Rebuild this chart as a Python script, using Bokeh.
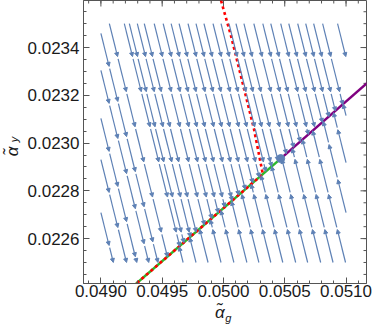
import math
from bokeh.plotting import figure
from bokeh.models import (Range1d, FixedTicker, LinearAxis, Arrow, NormalHead,
                          ColumnDataSource, PrintfTickFormatter)
from bokeh.embed import file_html
from bokeh.resources import INLINE

# ---------------- axis ticks ----------------
x_tick_values = [0.0490, 0.0495, 0.0500, 0.0505, 0.0510]
x_tick_labels = ["0.0490", "0.0495", "0.0500", "0.0505", "0.0510"]
x_minor_values = [0.0489, 0.0490, 0.0491, 0.0492, 0.0493, 0.0494, 0.0495, 0.0496,
                  0.0497, 0.0498, 0.0499, 0.0500, 0.0501, 0.0502, 0.0503, 0.0504,
                  0.0505, 0.0506, 0.0507, 0.0508, 0.0509, 0.0510, 0.0511]
y_tick_values = [0.0226, 0.0228, 0.0230, 0.0232, 0.0234]
y_tick_labels = ["0.0226", "0.0228", "0.0230", "0.0232", "0.0234"]
y_minor_values = [0.02245, 0.02250, 0.02255, 0.02260, 0.02265, 0.02270, 0.02275,
                  0.02280, 0.02285, 0.02290, 0.02295, 0.02300, 0.02305, 0.02310,
                  0.02315, 0.02320, 0.02325, 0.02330, 0.02335, 0.02340, 0.02345,
                  0.02350, 0.02355]
x_lo, x_hi = 0.048858, 0.051167
y_lo, y_hi = 0.022412, 0.023597

# axis titles: main symbol and its subscript, each anchored at an axis value
x_title, x_title_at = "\u03b1\u0303", 0.04997
x_sub, x_sub_at = "g", 0.05004
y_title, y_title_at = "\u03b1\u0303", 0.022965
y_sub, y_sub_at = "y", 0.023015

# ---------------- curves ----------------
green_x = [0.04926, 0.050467]
green_y = [0.022399, 0.022935]
purple_x = [0.050467, 0.05120]
purple_y = [0.022935, 0.023264]
red_x = [0.049980, 0.050061, 0.050248, 0.050321, 0.04926]
red_y = [0.023597, 0.023450, 0.023061, 0.022870, 0.022399]
fixed_x = [0.050467]
fixed_y = [0.022935]

# ---------------- stream field ----------------
flow_slope = -2.06          # dy/dx of the flow direction
attractor_slope = 0.446     # slope of the attracting line through the fixed point
domain_x = (0.0490, 0.0510)
domain_y = (0.0225, 0.0235)
top_seeds_x = [0.049069, 0.049191, 0.049232, 0.049297, 0.049354, 0.049435,
               0.049508, 0.049573, 0.049638, 0.049711, 0.049776, 0.049841,
               0.049915, 0.049980, 0.050045, 0.050102, 0.050167, 0.050248,
               0.050321, 0.050386, 0.050467, 0.050533, 0.050606, 0.050671,
               0.050736, 0.050809, 0.050931]
left_seeds_y = [0.023459, 0.023304, 0.023103, 0.022931, 0.022709]
bottom_seeds_x = [0.049671, 0.049776, 0.049874, 0.049980, 0.050085, 0.050191,
                  0.050289, 0.050386, 0.050484, 0.050589, 0.050687, 0.050793,
                  0.050894, 0.050996]
right_seeds_y = [0.023115, 0.022918, 0.022709]

piece_h = 0.000147   # vertical length of one arrow segment
piece_gap = 0.000009

def att(x):
    return fixed_y[0] + attractor_slope * (x - fixed_x[0])

k = abs(flow_slope)
xs0, ys0, xs1, ys1 = [], [], [], []

def trace(x0, y0, sgn):
    s = y0 - att(x0)
    t_att = abs(s) / (attractor_slope + k)
    if sgn > 0:
        t_end = min(t_att, domain_x[1] - x0, (y0 - domain_y[0]) / k)
    else:
        t_end = min(t_att, x0 - domain_x[0], (domain_y[1] - y0) / k)
    V = k * t_end
    j = 0
    while True:
        a = j * piece_h
        if a >= V - 0.000004:
            break
        b = min((j + 1) * piece_h - piece_gap, V)
        ta, tb = a / k, b / k
        xs0.append(x0 + sgn * ta)
        ys0.append(y0 - sgn * k * ta)
        xs1.append(x0 + sgn * tb)
        ys1.append(y0 - sgn * k * tb)
        j += 1

for xv in top_seeds_x:
    trace(xv, domain_y[1], 1 if domain_y[1] > att(xv) else -1)
for yv in left_seeds_y:
    trace(domain_x[0], yv, 1 if yv > att(domain_x[0]) else -1)
for xv in bottom_seeds_x:
    trace(xv, domain_y[0], 1 if domain_y[0] > att(xv) else -1)
for yv in right_seeds_y:
    trace(domain_x[1], yv, 1 if yv > att(domain_x[1]) else -1)

# ---------------- figure ----------------
AX = "#555555"
TXT = "#1a1a1a"
FONT = "Liberation Sans"
W, H = 372, 333
p = figure(width=W, height=H,
           x_range=Range1d(x_lo, x_hi), y_range=Range1d(y_lo, y_hi),
           output_backend="svg", toolbar_location=None,
           min_border_left=82, min_border_right=6, min_border_top=0, min_border_bottom=50,
           x_axis_type=None, y_axis_type=None)
p.grid.visible = False
p.outline_line_color = AX
p.outline_line_width = 1
p.background_fill_color = "white"

def style(axis, ticks, minor, labels, standoff):
    axis.ticker = FixedTicker(ticks=ticks, minor_ticks=minor)
    axis.axis_line_color = AX
    axis.major_tick_line_color = AX
    axis.minor_tick_line_color = AX
    axis.major_tick_in = 6
    axis.major_tick_out = 0
    axis.minor_tick_in = 3
    axis.minor_tick_out = 0
    axis.formatter = PrintfTickFormatter(format="%.4f")
    axis.major_label_overrides = dict(zip(ticks, labels))
    axis.major_label_text_font = FONT
    axis.major_label_text_font_size = "17px"
    axis.major_label_text_color = TXT
    axis.major_label_standoff = standoff

def title_axis(at, text, size, standoff, vertical):
    ax = LinearAxis(ticker=FixedTicker(ticks=[at], minor_ticks=[]))
    ax.major_label_overrides = {at: text}
    ax.axis_line_color = None
    ax.major_tick_line_color = None
    ax.minor_tick_line_color = None
    ax.major_tick_in = 0
    ax.major_tick_out = 0
    ax.minor_tick_in = 0
    ax.minor_tick_out = 0
    ax.major_label_text_font = FONT
    ax.major_label_text_font_style = "italic"
    ax.major_label_text_font_size = size
    ax.major_label_text_color = TXT
    ax.major_label_standoff = standoff
    if vertical:
        ax.major_label_orientation = "parallel"
    return ax

bottom = LinearAxis(); style(bottom, x_tick_values, x_minor_values, x_tick_labels, 1)
left = LinearAxis(); style(left, y_tick_values, y_minor_values, y_tick_labels, 4)
p.add_layout(bottom, "below")
p.add_layout(left, "left")
p.add_layout(title_axis(x_title_at, x_title, "17px", 3, False), "below")
p.add_layout(title_axis(x_sub_at, x_sub, "11px", -13, False), "below")
p.add_layout(title_axis(y_title_at, y_title, "17px", 2, True), "left")
p.add_layout(title_axis(y_sub_at, y_sub, "11px", -20, True), "left")

# ticks on the top and right frame edges (half of each dash is clipped by the frame)
p.scatter(x_tick_values, [y_hi] * len(x_tick_values), marker="dash", size=12,
          angle=math.pi / 2, line_color=AX, line_width=1)
p.scatter(x_minor_values, [y_hi] * len(x_minor_values), marker="dash", size=6,
          angle=math.pi / 2, line_color=AX, line_width=1)
p.scatter([x_hi] * len(y_tick_values), y_tick_values, marker="dash", size=12,
          line_color=AX, line_width=1)
p.scatter([x_hi] * len(y_minor_values), y_minor_values, marker="dash", size=6,
          line_color=AX, line_width=1)

# streamlines
SC = "#5E81B5"
src = ColumnDataSource(dict(x0=xs0, y0=ys0, x1=xs1, y1=ys1))
p.add_layout(Arrow(x_start="x0", y_start="y0", x_end="x1", y_end="y1", source=src,
                   line_color=SC, line_width=1.2,
                   end=NormalHead(size=4, fill_color=SC, line_color=SC, line_width=1)))

p.line(green_x, green_y, line_color="#2DB82D", line_width=2.5)
p.line(purple_x, purple_y, line_color="#800080", line_width=2.5)
p.line(red_x, red_y, line_color="#FF0000", line_width=2.6, line_dash="3 3")
p.scatter(fixed_x, fixed_y, size=8, fill_color=SC, line_color=SC)

open("out.html", "w").write(file_html(p, INLINE))
